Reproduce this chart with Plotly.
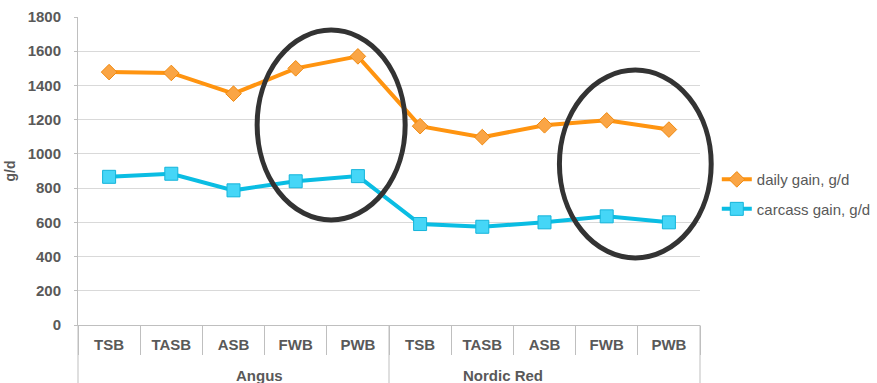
import plotly.graph_objects as go

groups = ["Angus", "Nordic Red"]
subcats = ["TSB", "TASB", "ASB", "FWB", "PWB", "TSB", "TASB", "ASB", "FWB", "PWB"]
daily_gain = [1478, 1473, 1352, 1500, 1570, 1162, 1098, 1167, 1196, 1142]
carcass_gain = [866, 884, 787, 840, 870, 590, 574, 600, 635, 600]

y_max = 1800
n_cat = len(subcats)
xi = list(range(n_cat))

fig = go.Figure()
fig.add_trace(go.Scatter(
    x=xi, y=daily_gain, mode="lines+markers", name="daily gain, g/d", legendgroup="a",
    line=dict(color="#FF9410", width=4),
    marker=dict(symbol="diamond", size=12, color="#FAA545", line=dict(color="#F08A10", width=1)),
))
fig.add_trace(go.Scatter(
    x=xi, y=carcass_gain, mode="lines+markers", name="carcass gain, g/d", legendgroup="b",
    line=dict(color="#0ABDE3", width=4),
    marker=dict(symbol="square", size=13, color="#45D6F7", line=dict(color="#14B4DA", width=1)),
))

# highlight ellipses: centre/radius in category-index and value units,
# converted to paper fractions so they are not clipped at the plot edge
for (cx, rx, cy, ry) in [(3.57, 1.19, 1169, 555), (8.46, 1.22, 941, 549)]:
    fig.add_shape(type="circle", xref="paper", yref="paper",
                  x0=(cx - rx + 0.5) / n_cat, x1=(cx + rx + 0.5) / n_cat,
                  y0=(cy - ry) / y_max, y1=(cy + ry) / y_max,
                  line=dict(color="#333333", width=5))

# group dividers and group labels below the category labels
plot_h = 383 - 17 - 58
div_bottom = -58 / plot_h
n_groups = len(groups)
for g in range(n_groups + 1):
    fig.add_shape(type="line", xref="paper", yref="paper",
                  x0=g / n_groups, x1=g / n_groups, y0=0, y1=div_bottom,
                  line=dict(color="#BFBFBF", width=1))
for g, name in enumerate(groups):
    fig.add_annotation(text="<b>%s</b>" % name, xref="paper", yref="paper",
                       x=(g + 0.5) / n_groups, y=-50 / plot_h, yanchor="middle",
                       showarrow=False, font=dict(size=15, color="#595959"))

fig.update_layout(
    width=877, height=383,
    margin=dict(l=78, r=177, t=17, b=58, autoexpand=False),
    plot_bgcolor="white", paper_bgcolor="white",
    font=dict(family="Liberation Sans, Arial, sans-serif", color="#595959"),
    showlegend=True,
    legend=dict(x=1.027, y=0.425, xanchor="left", yanchor="middle",
                traceorder="grouped", tracegroupgap=7,
                font=dict(size=15, color="#595959"), itemwidth=30),
    xaxis=dict(range=[-0.5, n_cat - 0.5], tickmode="array", tickvals=xi, ticktext=subcats,
               showgrid=False, zeroline=False, showline=True, automargin=False,
               linecolor="#BFBFBF", ticks="outside", ticklen=6, tickcolor="rgba(0,0,0,0)",
               minor=dict(tickmode="array", tickvals=[i - 0.5 for i in range(n_cat + 1)],
                          ticks="outside", ticklen=29, tickcolor="#BFBFBF", showgrid=False),
               tickfont=dict(size=15, color="#595959", weight="bold")),
    yaxis=dict(range=[0, y_max], dtick=200, showgrid=True, gridcolor="#D9D9D9",
               gridwidth=1, showline=True, linecolor="#BFBFBF", zeroline=False,
               automargin=False,
               ticks="outside", ticklen=3, tickcolor="#BFBFBF", ticklabelstandoff=10,
               tickfont=dict(size=15, color="#595959", weight="bold"),
               title=dict(text="g/d", font=dict(size=14, color="#595959", weight="bold"), standoff=8)),
)

fig.write_html("out.html")
